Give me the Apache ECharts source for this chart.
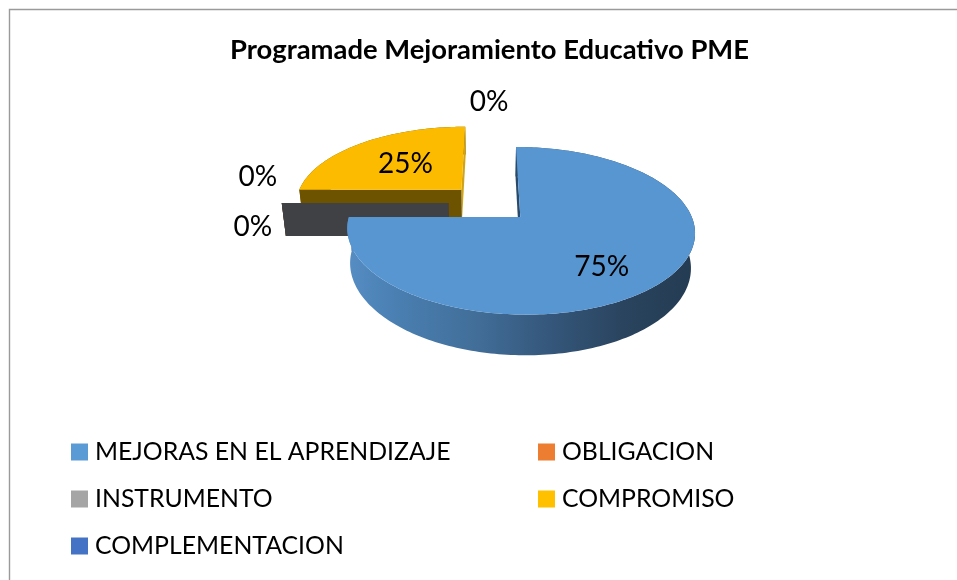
<!DOCTYPE html>
<html>
<head>
<meta charset="utf-8">
<style>html,body{margin:0;padding:0;background:#fff}#c{width:957px;height:580px}</style>
<script src="https://cdn.jsdelivr.net/npm/echarts@6/dist/echarts.min.js"></script>
</head>
<body>
<div id="c"></div>
<script>
const titleText = 'Programade Mejoramiento Educativo PME';
const categories = ['MEJORAS EN EL APRENDIZAJE', 'OBLIGACION', 'INSTRUMENTO', 'COMPROMISO', 'COMPLEMENTACION'];
const values = [75, 0, 0, 25, 0];
const labels = ['75%', '0%', '0%', '25%', '0%'];
const legendColors = ['#5B9BD5', '#ED7D31', '#A5A5A5', '#FFC000', '#4472C4'];
const topColors = ['#5896D2', '#ED7D31', '#A5A5A5', '#FDBB00', '#4472C4'];
const wallColors = ['#2A4A6A', '#7A3F18', '#404144', '#6D5200', '#223A64'];
const endWallColors = ['#568DC3', '#7A3F18', '#404144', '#D0A418', '#223A64'];

// projection of the tilted, exploded pie
const P = {X: 490, Y: 203, A: 166.6, B: 77, K: 0.16, D: 33, shrink: 0.02, explode: 0.25};
const labelSpots = [
  {rho: 0.62, dx: -2, dy: 11},
  {rho: 1.15, dx: 1, dy: -26},
  {rho: 1.18, dx: 1, dy: 24},
  {rho: 0.50, dx: -3, dy: -1},
  {rho: 1.36, dx: -1, dy: -2}
];
const FONT = 'Lato';
const total = values.reduce((a, b) => a + b, 0);

function project(u, v, z) {
  const w = 1 + P.K * v;
  return [P.X + P.A * u / w * (1 - P.shrink * z), P.Y - P.B * v / w + P.D * z / w];
}

function renderSlice(params, api) {
  const i = params.seriesIndex;
  const value = api.value(0);
  const before = api.value(1);
  const a0 = before / total * 2 * Math.PI;
  const a1 = (before + value) / total * 2 * Math.PI;
  const m = (a0 + a1) / 2;
  const ou = P.explode * Math.sin(m), ov = P.explode * Math.cos(m);
  const rim = (t, z) => project(ou + Math.sin(t), ov + Math.cos(t), z);
  const apex = z => project(ou, ov, z);
  const children = [];
  const steps = Math.max(1, Math.round((a1 - a0) / 0.02));
  const topArc = [], lowArc = [];
  for (let s = 0; s <= steps; s++) {
    const t = a0 + (a1 - a0) * s / steps;
    topArc.push(rim(t, 0));
    lowArc.push(rim(t, 1));
  }
  const poly = (points, fill) => ({type: 'polygon', shape: {points}, style: {fill}, silent: true});
  if (value > 0) {
    // outer wall
    const fill = i === 0
      ? new echarts.graphic.LinearGradient(0, 0, 1, 0, [
          {offset: 0, color: '#568DC3'},
          {offset: 0.13, color: '#4A80B3'},
          {offset: 0.36, color: '#426F9A'},
          {offset: 0.56, color: '#36597E'},
          {offset: 0.79, color: '#2A445F'},
          {offset: 1, color: '#243C52'}
        ])
      : wallColors[i];
    children.push(poly(topArc.concat(lowArc.slice().reverse()), fill));
  }
  // cut walls
  children.push(poly([apex(0), rim(a1, 0), rim(a1, 1), apex(1)], endWallColors[i]));
  children.push(poly([apex(0), rim(a0, 0), rim(a0, 1), apex(1)], wallColors[i]));
  if (value > 0) {
    // top face
    children.push(poly([apex(0)].concat(topArc), topColors[i]));
  }
  const spot = labelSpots[i];
  const q = project(ou + spot.rho * Math.sin(m), ov + spot.rho * Math.cos(m), 0);
  children.push({
    type: 'text',
    silent: true,
    z2: 100,
    style: {
      x: q[0] + spot.dx, y: q[1] + spot.dy,
      text: labels[i], fill: '#000',
      font: '28px ' + FONT, textAlign: 'center', textVerticalAlign: 'middle'
    }
  });
  return {type: 'group', children};
}

let running = 0;
const series = categories.map((name, i) => {
  const before = running;
  running += values[i];
  const mid = (before + values[i] / 2) / total * 2 * Math.PI;
  return {
    type: 'custom',
    name,
    coordinateSystem: 'none',
    z: Math.round(10 - 5 * Math.cos(mid)),
    itemStyle: {color: legendColors[i]},
    data: [[values[i], before]],
    renderItem: renderSlice,
    animation: false
  };
});

const legendText = {fontFamily: FONT, fontSize: 24.8, color: '#000', lineHeight: 30, padding: [2, 0, 0, 2]};
const legendBase = {
  orient: 'vertical', icon: 'rect', itemWidth: 17, itemHeight: 17,
  itemGap: 15, padding: 0, textStyle: legendText, selectedMode: false
};
const chart = echarts.init(document.getElementById('c'), null, {renderer: 'canvas'});
chart.setOption({
  animation: false,
  backgroundColor: '#fff',
  tooltip: {show: false},
  title: {
    text: titleText, left: 489.5, top: 37, textAlign: 'center', padding: 0,
    textStyle: {fontFamily: FONT, fontWeight: 'bold', fontSize: 27.4, color: '#000'}
  },
  legend: [
    Object.assign({}, legendBase, {left: 71, top: 436, data: [categories[0], categories[2], categories[4]]}),
    Object.assign({}, legendBase, {left: 538, top: 436, data: [categories[1], categories[3]]})
  ],
  graphic: [{
    type: 'rect', silent: true, z: -1,
    shape: {x: 9.5, y: 9.5, width: 1200, height: 1200},
    style: {fill: 'none', stroke: '#9A9A9A', lineWidth: 1.4}
  }],
  series
});
</script>
</body>
</html>
